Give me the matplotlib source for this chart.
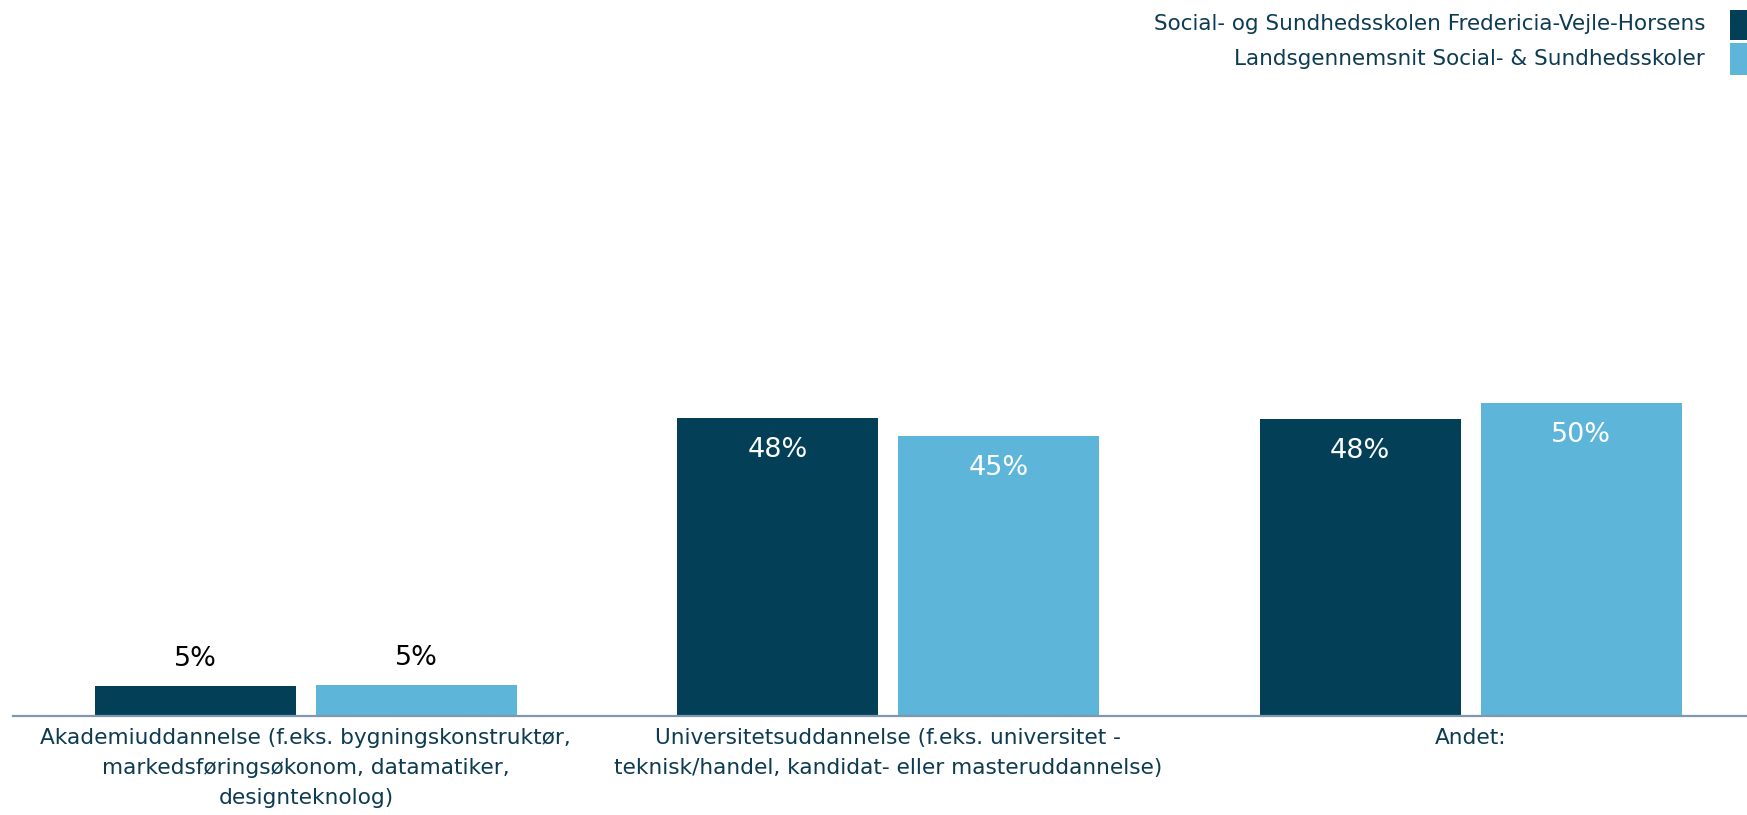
import matplotlib
matplotlib.use("Agg")
import matplotlib.pyplot as plt
from matplotlib.patches import Rectangle
import numpy as np

categories = [
    "Akademiuddannelse (f.eks. bygningskonstruktør,\nmarkedsføringsøkonom, datamatiker,\ndesignteknolog)",
    "Universitetsuddannelse (f.eks. universitet -\nteknisk/handel, kandidat- eller masteruddannelse)",
    "Andet:",
]
series_names = [
    "Social- og Sundhedsskolen Fredericia-Vejle-Horsens",
    "Landsgennemsnit Social- & Sundhedsskoler",
]
school_values = [4.8, 48.0, 47.9]
national_values = [4.9, 45.1, 50.4]

colors = ["#034058", "#5EB5DA"]
text_color = "#0D3B52"
axis_color = "#8097B0"

plt.rcParams['font.family'] = ['DejaVu Sans']

W, H = 1747, 815
fig = plt.figure(figsize=(W / 100, H / 100), dpi=100)

# axes geometry in pixels
ax_left, ax_right = 13, 1747
ax_bottom_px, ax_top_px = 715.5, 80
ax = fig.add_axes([ax_left / W, (H - ax_bottom_px) / H,
                   (ax_right - ax_left) / W, (ax_bottom_px - ax_top_px) / H])

x = np.arange(len(categories))
width = 0.345
offset = 0.1897
series = [school_values, national_values]
for i, (vals, col) in enumerate(zip(series, colors)):
    xs = x + (-offset if i == 0 else offset)
    ax.bar(xs, vals, width=width, color=col, zorder=2)
    for xi, v in zip(xs, vals):
        label = f"{round(v):.0f}%"
        if v > 20:
            ax.annotate(label, (xi, v), xytext=(0, -14), textcoords="offset points",
                        ha="center", va="top", color="white", fontsize=19.5)
        else:
            ax.annotate(label, (xi, v), xytext=(0, 14.5), textcoords="offset points",
                        ha="center", va="baseline", color="black", fontsize=19.5)

ax.set_xlim(-0.5027, 2.4742)
ax.set_ylim(0, 102.5)
ax.set_xticks(x)
ax.set_xticklabels(categories, fontsize=15.6, color=text_color, linespacing=1.62)
ax.tick_params(axis="x", length=0, pad=9)
ax.set_yticks([])
for s in ["top", "right", "left"]:
    ax.spines[s].set_visible(False)
ax.spines["bottom"].set_color(axis_color)
ax.spines["bottom"].set_linewidth(1.6)
ax.spines["bottom"].set_zorder(3)

# legend (top right, markers right of text)
legend_y = [24.5, 59]
legend_rect = [(10, 40), (43, 75)]
for name, col, ty, (r0, r1) in zip(series_names, colors, legend_y, legend_rect):
    fig.text(1705 / W, (H - ty) / H, name, ha="right", va="center",
             fontsize=15.5, color=text_color)
    fig.patches.append(Rectangle((1730 / W, (H - r1) / H), 20 / W, (r1 - r0) / H,
                                 transform=fig.transFigure, facecolor=col,
                                 edgecolor="none", figure=fig))

fig.savefig("out.png", dpi=100)
